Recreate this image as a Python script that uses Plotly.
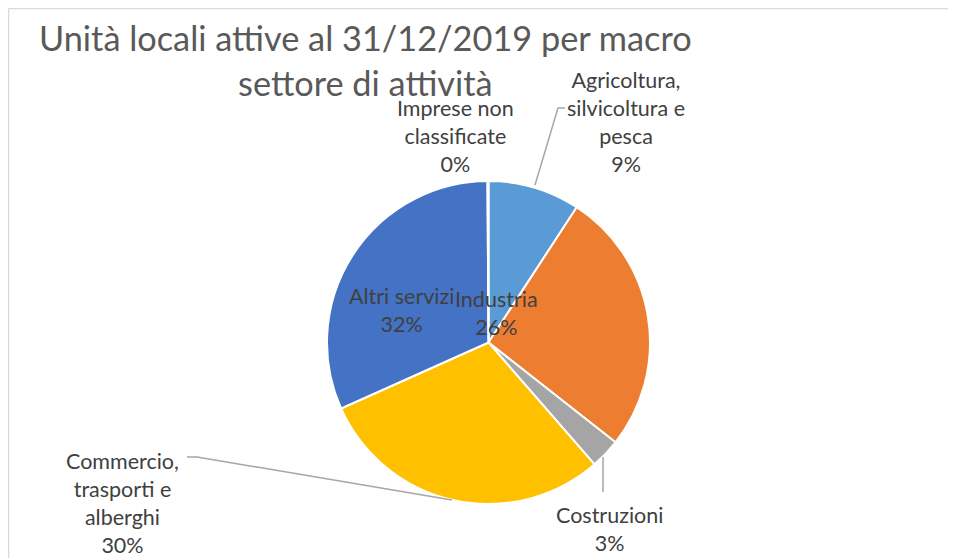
"""
Pie chart: Unità locali attive al 31/12/2019 per macro settore di attività.
Excel-like styling with outside labels and leader lines.
"""

import plotly.graph_objects as go

W, H = 956, 558
OFF = 8  # page body margin shifts the figure by this many pixels

# Data (shares, %)
sectors = [
    'Agricoltura, silvicoltura e pesca',
    'Industria',
    'Costruzioni',
    'Commercio, trasporti e alberghi',
    'Altri servizi',
    'Imprese non classificate',
]
label_lines = [
    'Agricoltura,<br>silvicoltura e<br>pesca',
    'Industria',
    'Costruzioni',
    'Commercio,<br>trasporti e<br>alberghi',
    'Altri servizi',
    'Imprese non<br>classificate',
]
shares = [9.2, 26.4, 3.0, 29.7, 31.6, 0.1]

COLORS = ['#5B9BD5', '#ED7D31', '#A5A5A5', '#FFC000', '#4472C4', '#70AD47']
TEXT_COLOR = '#404040'
TITLE_COLOR = '#595959'
LEADER_COLOR = '#A6A6A6'
FONT = 'Lato'

# label block centres in screen pixels
label_pos = [(626, 122), (496, 313), (609, 529), (122, 503), (401, 310), (455, 136)]


def px(x):
    return (x - OFF) / W


def py(y):
    return 1 - (y - OFF) / H


fig = go.Figure(go.Pie(
    labels=sectors,
    values=shares,
    sort=False,
    direction='clockwise',
    rotation=0,
    textinfo='none',
    hoverinfo='label+percent',
    marker=dict(colors=COLORS, line=dict(color='white', width=2)),
    domain=dict(x=[px(327), px(650)], y=[py(504), py(181)]),
    showlegend=False,
))

total = sum(shares)
annotations = []
for txt, v, (x, y) in zip(label_lines, shares, label_pos):
    annotations.append(dict(
        x=px(x), y=py(y), xref='paper', yref='paper',
        text=f"{txt}<br>{round(v / total * 100)}%",
        showarrow=False, xanchor='center', yanchor='middle', align='center',
        font=dict(family=FONT, size=21.5, color=TEXT_COLOR),
    ))

# title
annotations.append(dict(
    x=px(365), y=py(60), xref='paper', yref='paper',
    text='Unità locali attive al 31/12/2019 per macro<br>settore di attività',
    showarrow=False, xanchor='center', yanchor='middle', align='center',
    font=dict(family=FONT, size=34.3, color=TITLE_COLOR),
))

# leader lines (screen pixel paths)
leaders = [
    [(535, 185), (558, 108), (565, 108)],
    [(603, 457), (603, 492)],
    [(187, 457), (197, 457), (452, 500)],
]
shapes = []
for pts in leaders:
    path = 'M ' + ' L '.join(f'{px(a)},{py(b)}' for a, b in pts)
    shapes.append(dict(type='path', path=path, xref='paper', yref='paper',
                       line=dict(color=LEADER_COLOR, width=1.5)))

# chart area border (top and left visible)
shapes.append(dict(type='line', xref='paper', yref='paper',
                   x0=px(8.5), x1=1, y0=py(8.5), y1=py(8.5),
                   line=dict(color='#D9D9D9', width=1.5)))
shapes.append(dict(type='line', xref='paper', yref='paper',
                   x0=px(8.5), x1=px(8.5), y0=py(8.5), y1=0,
                   line=dict(color='#D9D9D9', width=1.5)))

fig.update_layout(
    width=W,
    height=H,
    margin=dict(l=0, r=0, t=0, b=0),
    paper_bgcolor='white',
    plot_bgcolor='white',
    annotations=annotations,
    shapes=shapes,
)

fig.write_html("out.html")
